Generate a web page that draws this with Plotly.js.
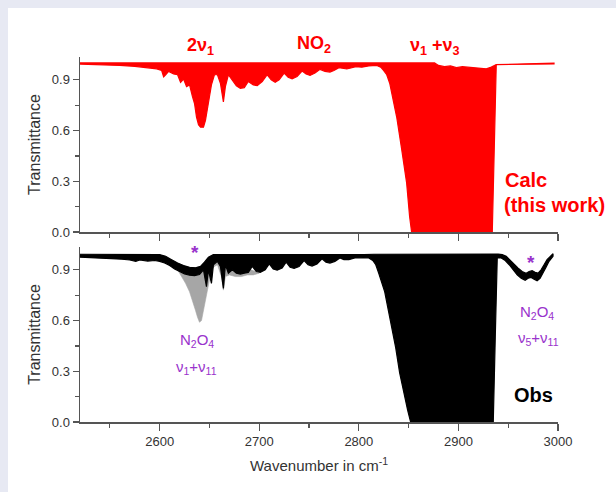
<!DOCTYPE html>
<html>
<head>
<meta charset="utf-8">
<script src="https://cdn.plot.ly/plotly-3.0.1.min.js"></script>
<style>
  html, body { margin: 0; padding: 0; width: 616px; height: 492px; background: #e7e9f3; overflow: hidden; }
  #chart { position: absolute; left: 8px; top: 8px; width: 608px; height: 484px; background: #ffffff; }
</style>
</head>
<body>
<div id="chart"></div>
<script>
// ---- Calculated spectrum (red): lower envelope of the absorption lines ----
const calcLowX = [2520, 2540, 2560, 2575, 2588, 2597, 2602, 2604, 2606, 2609,
                  2614, 2618, 2621, 2624, 2627, 2630, 2633, 2635, 2637, 2639,
                  2641, 2644, 2646, 2648, 2650, 2652, 2655, 2658, 2661, 2664,
                  2666, 2669, 2673, 2677, 2681, 2685, 2689, 2694, 2698, 2703,
                  2708, 2712, 2716, 2720, 2725, 2729, 2733, 2738, 2743, 2747,
                  2751, 2756, 2761, 2766, 2771, 2775, 2780, 2784, 2788, 2792,
                  2797, 2803, 2810, 2818, 2822, 2825, 2828, 2831, 2834, 2838,
                  2843, 2848, 2851, 2853, 2934, 2936, 2938, 2996];
const calcLowT = [0.993, 0.99, 0.985, 0.98, 0.972, 0.965, 0.955, 0.918, 0.93, 0.95,
                  0.935, 0.93, 0.885, 0.905, 0.86, 0.87, 0.8, 0.76, 0.68, 0.635,
                  0.62, 0.62, 0.66, 0.72, 0.8, 0.87, 0.93, 0.93, 0.88, 0.77,
                  0.86, 0.93, 0.9, 0.865, 0.85, 0.853, 0.89, 0.87, 0.866, 0.89,
                  0.93, 0.9, 0.886, 0.9, 0.94, 0.915, 0.906, 0.92, 0.952, 0.935,
                  0.926, 0.94, 0.962, 0.95, 0.946, 0.955, 0.972, 0.966, 0.964, 0.97,
                  0.978, 0.975, 0.982, 0.985, 0.975, 0.955, 0.93, 0.88, 0.8, 0.68,
                  0.49, 0.29, 0.09, 0.0, 0.0, 0.5, 0.99, 0.994];
// upper envelope (baseline) of the calculated spectrum
const calcTopX = [2520, 2876, 2880, 2886, 2892, 2898, 2904, 2910, 2916, 2922, 2928, 2933, 2938, 2996];
const calcTopT = [1.0, 1.0, 0.985, 0.978, 0.982, 0.972, 0.978, 0.975, 0.97, 0.968, 0.965, 0.975, 0.99, 0.999];

// ---- Observed spectrum (black): lower envelope ----
const obsLowX = [2520, 2535, 2550, 2562, 2570, 2576, 2580, 2588, 2595, 2600,
                 2605, 2610, 2615, 2620, 2625, 2630, 2635, 2640, 2644, 2647,
                 2649, 2652, 2654, 2658, 2661, 2664, 2666, 2669, 2673, 2677,
                 2681, 2685, 2689, 2693, 2697, 2701, 2706, 2710, 2714, 2718,
                 2723, 2727, 2731, 2735, 2740, 2745, 2749, 2753, 2758, 2763,
                 2767, 2771, 2776, 2781, 2785, 2790, 2796, 2805, 2810, 2814,
                 2817, 2820, 2823, 2826, 2829, 2833, 2837, 2841, 2845, 2849,
                 2852, 2935, 2937, 2939, 2943, 2947, 2951, 2955, 2959, 2963,
                 2967, 2970, 2973, 2976, 2979, 2982, 2985, 2988, 2991, 2995];
const obsLowT = [0.975, 0.972, 0.968, 0.963, 0.958, 0.95, 0.958, 0.952, 0.955, 0.95,
                 0.94, 0.925, 0.905, 0.888, 0.876, 0.868, 0.866, 0.872, 0.9, 0.8,
                 0.9, 0.82, 0.93, 0.95, 0.92, 0.79, 0.93, 0.88, 0.9, 0.88,
                 0.875, 0.88, 0.885, 0.92, 0.89, 0.885, 0.9, 0.935, 0.905, 0.898,
                 0.91, 0.945, 0.915, 0.908, 0.92, 0.955, 0.93, 0.922, 0.935, 0.965,
                 0.945, 0.94, 0.95, 0.97, 0.96, 0.96, 0.97, 0.972, 0.97, 0.955,
                 0.93, 0.88, 0.83, 0.77, 0.68, 0.56, 0.44, 0.29, 0.17, 0.07,
                 0.0, 0.0, 0.5, 0.97, 0.97, 0.955, 0.93, 0.9, 0.87, 0.85,
                 0.838, 0.85, 0.855, 0.845, 0.835, 0.85, 0.88, 0.915, 0.95, 0.98];
// upper envelope of the observed spectrum
const obsTopX = [2520, 2600, 2606, 2612, 2618, 2624, 2630, 2636, 2641, 2645,
                 2649, 2654, 2805, 2815, 2940, 2944, 2948, 2952, 2956, 2960,
                 2964, 2968, 2971, 2974, 2977, 2980, 2983, 2986, 2989, 2992, 2995];
const obsTopT = [0.992, 0.99, 0.98, 0.96, 0.94, 0.925, 0.915, 0.912, 0.92, 0.945,
                 0.975, 0.99, 0.99, 0.992, 0.993, 0.99, 0.98, 0.96, 0.935, 0.91,
                 0.89, 0.88, 0.89, 0.895, 0.885, 0.88, 0.9, 0.93, 0.96, 0.98, 0.995];
// lighter grey NO2 lines seen through the N2O4 band
const grayX = [2612, 2618, 2622, 2626, 2630, 2633, 2636, 2638, 2640, 2642,
               2644, 2646, 2648, 2650, 2652, 2655, 2658, 2662, 2664, 2666,
               2670, 2676, 2682, 2688, 2694, 2700];
const grayT = [0.93, 0.9, 0.86, 0.82, 0.77, 0.72, 0.66, 0.62, 0.59, 0.6,
               0.66, 0.74, 0.8, 0.86, 0.9, 0.92, 0.93, 0.86, 0.78, 0.86,
               0.87, 0.86, 0.86, 0.87, 0.87, 0.88];

const yTicks = [0, 0.3, 0.6, 0.9];
const xTicks = [2600, 2700, 2800, 2900, 3000];

// ---- build closed polygons from the envelopes ----
function band(lx, ly, tx, ty) {
  return {
    x: lx.concat(tx.slice().reverse()),
    y: ly.concat(ty.slice().reverse())
  };
}
const calcPoly = band(calcLowX, calcLowT, calcTopX, calcTopT);
const obsPoly = band(obsLowX, obsLowT, obsTopX, obsTopT);
const gx0 = grayX[0], gx1 = grayX[grayX.length - 1];
const gTopX = [], gTopT = [];
obsTopX.forEach((v, i) => { if (v >= gx0 && v <= gx1) { gTopX.push(v); gTopT.push(obsTopT[i]); } });
const grayPoly = band(grayX, grayT, [gx0].concat(gTopX, [gx1]), [grayT[0]].concat(gTopT, [grayT[grayT.length-1]]));

const FONT = 'Arial, "Liberation Sans", sans-serif';
const RED = '#ff0000';
const PURPLE = '#9932cc';

const traces = [
  { x: calcPoly.x, y: calcPoly.y, xaxis: 'x2', yaxis: 'y2', type: 'scatter', mode: 'lines',
    fill: 'toself', fillcolor: RED, line: { color: RED, width: 1.2 }, hoverinfo: 'skip' },
  { x: grayPoly.x, y: grayPoly.y, xaxis: 'x', yaxis: 'y', type: 'scatter', mode: 'lines',
    fill: 'toself', fillcolor: '#a6a6a6', line: { color: '#a6a6a6', width: 0.6 }, hoverinfo: 'skip' },
  { x: obsPoly.x, y: obsPoly.y, xaxis: 'x', yaxis: 'y', type: 'scatter', mode: 'lines',
    fill: 'toself', fillcolor: '#000000', line: { color: '#000000', width: 1.2 }, hoverinfo: 'skip' }
];

const axisCommon = {
  showline: true, linecolor: '#555555', linewidth: 1.5, showgrid: false, zeroline: false,
  ticks: 'outside', tickcolor: '#555555', tickwidth: 1.3,
  tickfont: { family: FONT, size: 13, color: '#333333' }
};

const xCommon = Object.assign({}, axisCommon, {
  range: [2520, 3000], tickmode: 'array', tickvals: xTicks, ticklen: 7,
  minor: { dtick: 50, tick0: 2550, ticks: 'outside', ticklen: 4, tickcolor: '#555555', tickwidth: 1.2, showgrid: false }
});
const yCommon = Object.assign({}, axisCommon, {
  range: [0, 1.035], tickmode: 'array', tickvals: yTicks, tickformat: '.1f', ticklen: 6,
  minor: { dtick: 0.15, tick0: 0, ticks: 'outside', ticklen: 4, tickcolor: '#555555', tickwidth: 1.2, showgrid: false },
  title: { text: 'Transmittance', font: { family: FONT, size: 16, color: '#333333' }, standoff: 7 }
});

function ann(text, x, y, xref, yref, opts) {
  return Object.assign({ text: text, x: x, y: y, xref: xref, yref: yref, showarrow: false,
    xanchor: 'center', yanchor: 'middle' }, opts);
}
const redBold = { font: { family: FONT, size: 18, color: RED, weight: 'bold' } };
const bigRed = { font: { family: FONT, size: 20, color: RED, weight: 'bold' }, xanchor: 'left' };
const purp = { font: { family: FONT, size: 15, color: PURPLE } };
const star = { font: { family: FONT, size: 19, color: PURPLE, weight: 'bold' } };

const layout = {
  width: 608, height: 484,
  margin: { l: 72, r: 58, t: 49, b: 70, pad: 0 },
  paper_bgcolor: '#ffffff', plot_bgcolor: '#ffffff',
  showlegend: false,
  xaxis: Object.assign({}, xCommon, { anchor: 'y', domain: [0, 1],
    title: { text: 'Wavenumber in cm<sup>-1</sup>', font: { family: FONT, size: 15, color: '#333333' }, standoff: 12 } }),
  xaxis2: Object.assign({}, xCommon, { anchor: 'y2', domain: [0, 1], showticklabels: false, matches: 'x' }),
  yaxis: Object.assign({}, yCommon, { anchor: 'x', domain: [0, 0.4795] }),
  yaxis2: Object.assign({}, yCommon, { anchor: 'x2', domain: [0.5205, 1] }),
  annotations: [
    ann('2ν<sub>1</sub>', 0.253, 1.03, 'paper', 'paper', redBold),
    ann('NO<sub>2</sub>', 0.4895, 1.033, 'paper', 'paper', redBold),
    ann('ν<sub>1</sub> +ν<sub>3</sub>', 0.7427, 1.03, 'paper', 'paper', redBold),
    ann('Calc', 2945, 0.31, 'x2', 'y2', bigRed),
    ann('(this work)', 2944, 0.16, 'x2', 'y2', bigRed),
    ann('*', 2635, 1.0, 'x', 'y', star),
    ann('*', 2973, 0.945, 'x', 'y', star),
    ann('N<sub>2</sub>O<sub>4</sub>', 2637, 0.48, 'x', 'y', purp),
    ann('ν<sub>1</sub>+ν<sub>11</sub>', 2637, 0.325, 'x', 'y', purp),
    ann('N<sub>2</sub>O<sub>4</sub>', 2979, 0.65, 'x', 'y', purp),
    ann('ν<sub>5</sub>+ν<sub>11</sub>', 2980, 0.495, 'x', 'y', purp),
    ann('Obs', 2975, 0.16, 'x', 'y', { font: { family: FONT, size: 20, color: '#000000', weight: 'bold' } })
  ]
};

Plotly.newPlot('chart', traces, layout, { staticPlot: true, displayModeBar: false, responsive: false });
</script>
</body>
</html>
